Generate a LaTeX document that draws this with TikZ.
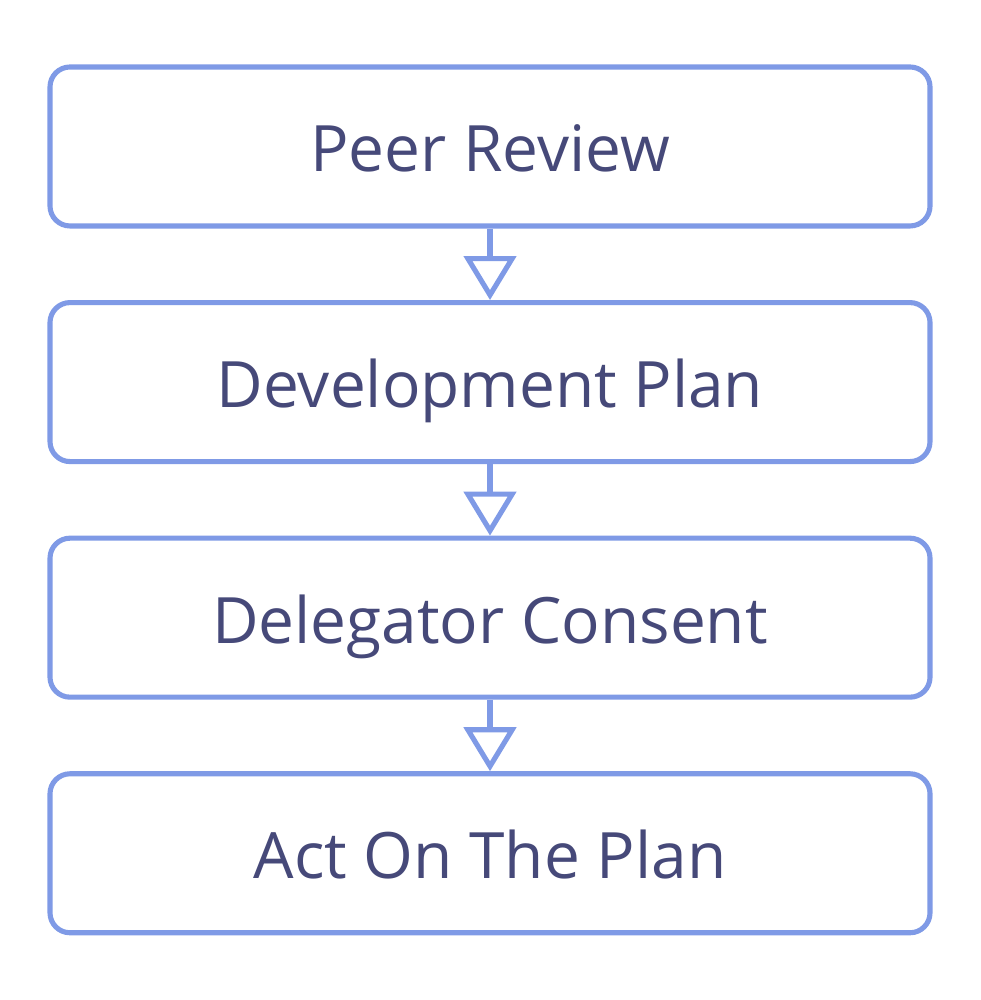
\documentclass[tikz,border=0pt]{standalone}
\usepackage{fontspec}
\setmainfont{Open Sans}
\usepackage{tikz}
\usetikzlibrary{positioning, arrows.meta}
\definecolor{boxline}{HTML}{7F9AE6}
\definecolor{boxtext}{HTML}{464979}

\begin{document}
\begin{tikzpicture}[
    stage/.style={draw=boxline, line width=1.45pt, rounded corners=0.2cm, fill=white,
        minimum width=8.8cm, minimum height=1.59cm, text height=0.51cm, text depth=0cm,
        text=boxtext, font=\fontsize{18.2}{22}\selectfont},
    flow/.style={draw=boxline, line width=1.45pt, -{Triangle[open, length=0.44cm, width=0.52cm]}},
    node distance=0.715cm]
    \useasboundingbox (0,0) rectangle (9.8,10);
    \node[stage] (review) at (4.9,8.535) {Peer Review};
    \node[stage, below=of review] (plan) {Development Plan};
    \node[stage, below=of plan] (consent) {Delegator Consent};
    \node[stage, below=of consent] (act) {Act On The Plan};
    \draw[flow] (review.south) -- (plan.north);
    \draw[flow] (plan.south) -- (consent.north);
    \draw[flow] (consent.south) -- (act.north);
\end{tikzpicture}
\end{document}
